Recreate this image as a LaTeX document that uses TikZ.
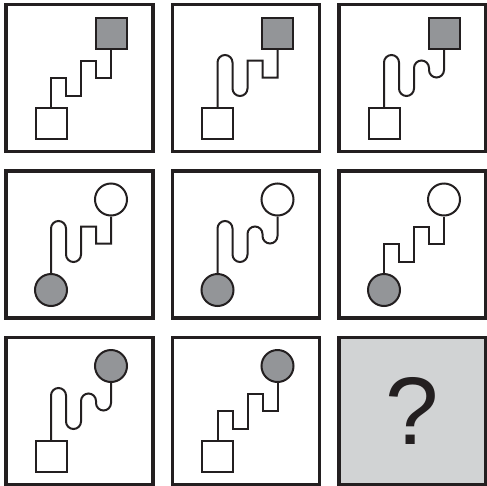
\documentclass[tikz,border=0pt]{standalone}
\usepackage{fontspec}
\setmainfont{Liberation Sans}
\usepackage{xcolor}
\usepackage{tikz}

\definecolor{ink}{HTML}{231F20}
\definecolor{shade}{HTML}{939598}
\definecolor{blank}{HTML}{D1D3D4}

\begin{document}
\begin{tikzpicture}[x=1pt, y=1pt, every node/.style={draw=ink, inner sep=0pt, line width=2pt},
  cellbox/.style={minimum size=147pt, line width=3.5pt},
  sqwhite/.style={minimum size=31pt, fill=white}, sqgray/.style={minimum size=31pt, fill=shade},
  ringwhite/.style={circle, minimum size=32pt, fill=white}, ringgray/.style={circle, minimum size=32pt, fill=shade},
  cord/.style={draw=ink, line width=2pt},
  stairlow/.style={insert path={-- ++(0,29.5) -- ++(15,0) -- ++(0,-18) -- ++(15,0) -- ++(0,17)}},
  wavelow/.style={insert path={-- ++(0,44.5) arc[start angle=180, end angle=0, radius=7.5] -- ++(0,-26) arc[start angle=180, end angle=360, radius=7.5] -- ++(0,10)}},
  stairhigh/.style={insert path={-- ++(0,18) -- ++(15,0) -- ++(0,-17) -- ++(15,0)}},
  wavehigh/.style={insert path={-- ++(0,10.5) arc[start angle=180, end angle=0, radius=7.5] -- ++(0,-2) arc[start angle=180, end angle=360, radius=7.5]}}]
\useasboundingbox (0,0) rectangle (487,-485);
% row 1
\begin{scope}[shift={(6,-4.5)}]
\node[cellbox] (f1) at (73.5,-73.5) {};
\node[sqwhite] (lo1) at (45,-119) {}; \node[sqgray] (hi1) at (105,-28.5) {};
\draw[cord] (lo1.north) [stairlow, stairhigh] -- (hi1.south);
\end{scope}
\begin{scope}[shift={(172.5,-4.5)}]
\node[cellbox] (f2) at (73.5,-73.5) {};
\node[sqwhite] (lo2) at (45,-119) {}; \node[sqgray] (hi2) at (105,-28.5) {};
\draw[cord] (lo2.north) [wavelow, stairhigh] -- (hi2.south);
\end{scope}
\begin{scope}[shift={(339,-4.5)}]
\node[cellbox] (f3) at (73.5,-73.5) {};
\node[sqwhite] (lo3) at (45,-119) {}; \node[sqgray] (hi3) at (105,-28.5) {};
\draw[cord] (lo3.north) [wavelow, wavehigh] -- (hi3.south);
\end{scope}
% row 2
\begin{scope}[shift={(6,-171)}]
\node[cellbox] (f4) at (73.5,-73.5) {};
\node[ringgray] (lo4) at (45,-119) {}; \node[ringwhite] (hi4) at (105,-28.5) {};
\draw[cord] (lo4.north) [wavelow, stairhigh] -- (hi4.south);
\end{scope}
\begin{scope}[shift={(172.5,-171)}]
\node[cellbox] (f5) at (73.5,-73.5) {};
\node[ringgray] (lo5) at (45,-119) {}; \node[ringwhite] (hi5) at (105,-28.5) {};
\draw[cord] (lo5.north) [wavelow, wavehigh] -- (hi5.south);
\end{scope}
\begin{scope}[shift={(339,-171)}]
\node[cellbox] (f6) at (73.5,-73.5) {};
\node[ringgray] (lo6) at (45,-119) {}; \node[ringwhite] (hi6) at (105,-28.5) {};
\draw[cord] (lo6.north) [stairlow, stairhigh] -- (hi6.south);
\end{scope}
% row 3
\begin{scope}[shift={(6,-337.5)}]
\node[cellbox] (f7) at (73.5,-73.5) {};
\node[sqwhite] (lo7) at (45,-119) {}; \node[ringgray] (hi7) at (105,-28.5) {};
\draw[cord] (lo7.north) [wavelow, wavehigh] -- (hi7.south);
\end{scope}
\begin{scope}[shift={(172.5,-337.5)}]
\node[cellbox] (f8) at (73.5,-73.5) {};
\node[sqwhite] (lo8) at (45,-119) {}; \node[ringgray] (hi8) at (105,-28.5) {};
\draw[cord] (lo8.north) [stairlow, stairhigh] -- (hi8.south);
\end{scope}
\begin{scope}[shift={(339,-337.5)}]
\node[cellbox, fill=blank, text=ink, font=\fontsize{96}{96}\selectfont] (f9) at (73.5,-73.5) {?};
\end{scope}
\end{tikzpicture}
\end{document}
